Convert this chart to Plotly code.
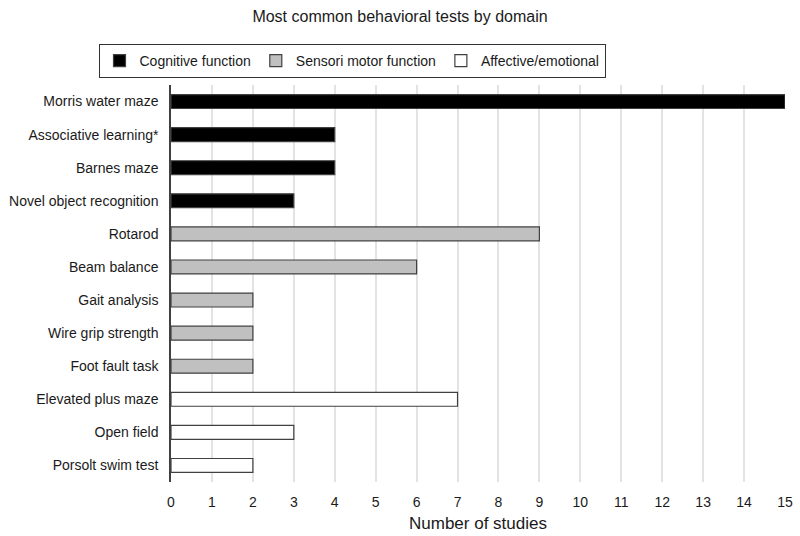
import plotly.graph_objects as go

tests = ["Morris water maze", "Associative learning*", "Barnes maze", "Novel object recognition",
         "Rotarod", "Beam balance", "Gait analysis", "Wire grip strength", "Foot fault task",
         "Elevated plus maze", "Open field", "Porsolt swim test"]
domains = ["Cognitive function"] * 4 + ["Sensori motor function"] * 5 + ["Affective/emotional"] * 3
counts = [15, 4, 4, 3, 9, 6, 2, 2, 2, 7, 3, 2]
domain_order = ["Cognitive function", "Sensori motor function", "Affective/emotional"]
colors = {"Cognitive function": "#000000", "Sensori motor function": "#c0c0c0", "Affective/emotional": "#ffffff"}
x_ticks = list(range(0, 16))

FONT = "Liberation Sans Narrow, Arial Narrow, Liberation Sans, Arial, sans-serif"

fig = go.Figure()
for d in domain_order:
    ys = [t for t, dd in zip(tests, domains) if dd == d]
    xs = [c for c, dd in zip(counts, domains) if dd == d]
    fig.add_trace(go.Bar(
        x=xs, y=ys, orientation="h", name=d,
        marker=dict(color=colors[d], line=dict(color="#404040", width=1.2)),
        width=0.42,
    ))

fig.update_layout(
    width=800, height=536,
    barmode="overlay",
    plot_bgcolor="white", paper_bgcolor="white",
    margin=dict(l=171, r=15, t=85, b=54, autoexpand=False),
    font=dict(family=FONT, size=14, color="#1a1a1a"),
    title=dict(text="Most common behavioral tests by domain", x=0.5, xanchor="center",
               y=1 - 16 / 536, yanchor="middle", yref="container",
               font=dict(size=16, family=FONT, color="#1a1a1a")),
    legend=dict(orientation="h", x=352 / 800, xanchor="center", xref="container",
                y=1 - 61 / 536, yanchor="middle", yref="container",
                bordercolor="#333333", borderwidth=1, font=dict(size=14, family=FONT),
                tracegroupgap=0, itemwidth=30),
)
fig.update_xaxes(range=[0, 15], tickvals=x_ticks, ticktext=[str(v) for v in x_ticks],
                 showgrid=True, gridcolor="#e3e3e3", gridwidth=1.5, zeroline=False,
                 showline=False, ticks="", ticklabelstandoff=10,
                 title=dict(text="Number of studies", standoff=8),
                 automargin=False, fixedrange=True)
fig.update_yaxes(categoryorder="array", categoryarray=list(reversed(tests)),
                 showline=True, linecolor="#404040", linewidth=1.5, ticks="",
                 showgrid=False, ticklabelstandoff=8, automargin=False)

fig.write_html("out.html", config={"displayModeBar": False},
               post_script="document.body.style.margin='0';")
